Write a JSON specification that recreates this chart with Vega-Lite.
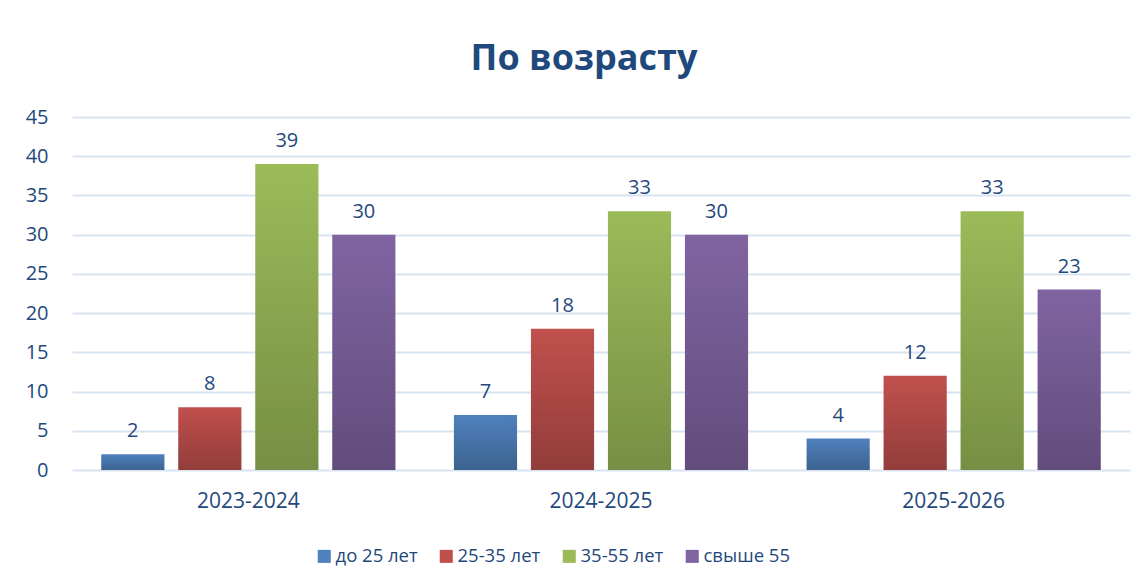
{
  "$schema": "https://vega.github.io/schema/vega-lite/v6.json",
  "width": 1058,
  "height": 353,
  "autosize": {"type": "none"},
  "padding": {"left": 72, "top": 117, "right": 17, "bottom": 118},
  "background": "white",
  "config": {
    "font": "Open Sans",
    "view": {"stroke": null}
  },
  "title": {
    "text": "По возрасту",
    "fontSize": 36,
    "fontWeight": "bold",
    "color": "#1F497D",
    "anchor": "middle",
    "frame": "group",
    "baseline": "alphabetic",
    "offset": 1,
    "dx": -17
  },
  "data": {
    "values": [
      {"year": "2023-2024", "group": "до 25 лет", "value": 2},
      {"year": "2023-2024", "group": "25-35 лет", "value": 8},
      {"year": "2023-2024", "group": "35-55 лет", "value": 39},
      {"year": "2023-2024", "group": "свыше 55", "value": 30},
      {"year": "2024-2025", "group": "до 25 лет", "value": 7},
      {"year": "2024-2025", "group": "25-35 лет", "value": 18},
      {"year": "2024-2025", "group": "35-55 лет", "value": 33},
      {"year": "2024-2025", "group": "свыше 55", "value": 30},
      {"year": "2025-2026", "group": "до 25 лет", "value": 4},
      {"year": "2025-2026", "group": "25-35 лет", "value": 12},
      {"year": "2025-2026", "group": "35-55 лет", "value": 33},
      {"year": "2025-2026", "group": "свыше 55", "value": 23}
    ]
  },
  "encoding": {
    "x": {
      "field": "year",
      "type": "nominal",
      "scale": {"paddingInner": 0, "paddingOuter": 0},
      "axis": {
        "title": null,
        "domain": false,
        "ticks": false,
        "labelAngle": 0,
        "labelFontSize": 21,
        "labelColor": "#1F497D",
        "labelPadding": 20
      }
    },
    "xOffset": {
      "field": "group",
      "type": "nominal",
      "sort": ["до 25 лет", "25-35 лет", "35-55 лет", "свыше 55"],
      "scale": {"paddingInner": 0.18, "paddingOuter": 0.38}
    },
    "y": {
      "field": "value",
      "type": "quantitative",
      "scale": {"domain": [0, 45], "nice": false},
      "axis": {
        "title": null,
        "domain": false,
        "ticks": false,
        "values": [0, 5, 10, 15, 20, 25, 30, 35, 40, 45],
        "labelFontSize": 20,
        "labelColor": "#1F497D",
        "labelPadding": 24,
        "gridColor": "#D9E4F2",
        "gridWidth": 2
      }
    }
  },
  "layer": [
    {
      "mark": {"type": "bar"},
      "encoding": {
        "color": {
          "field": "group",
          "type": "nominal",
          "sort": ["до 25 лет", "25-35 лет", "35-55 лет", "свыше 55"],
          "scale": {
            "domain": ["до 25 лет", "25-35 лет", "35-55 лет", "свыше 55"],
            "range": ["#4F81BD", "#C0504D", "#9BBB59", "#8064A2"]
          },
          "legend": {
            "title": null,
            "orient": "none",
            "direction": "horizontal",
            "legendX": 243,
            "legendY": 430,
            "symbolType": "square",
            "symbolSize": 170,
            "symbolStrokeWidth": 0,
            "labelFontSize": 18.5,
            "labelColor": "#1F497D",
            "labelOffset": 2,
            "columnPadding": 19
          }
        }
      }
    },
    {
      "mark": {
        "type": "bar",
        "color": {
          "gradient": "linear",
          "x1": 0, "y1": 0, "x2": 0, "y2": 1,
          "stops": [
            {"offset": 0, "color": "rgba(0,0,0,0)"},
            {"offset": 1, "color": "rgba(0,0,0,0.24)"}
          ]
        }
      }
    },
    {
      "mark": {
        "type": "text",
        "baseline": "alphabetic",
        "dy": -17,
        "fontSize": 20,
        "color": "#1F497D"
      },
      "encoding": {
        "text": {"field": "value", "type": "quantitative"}
      }
    }
  ]
}
